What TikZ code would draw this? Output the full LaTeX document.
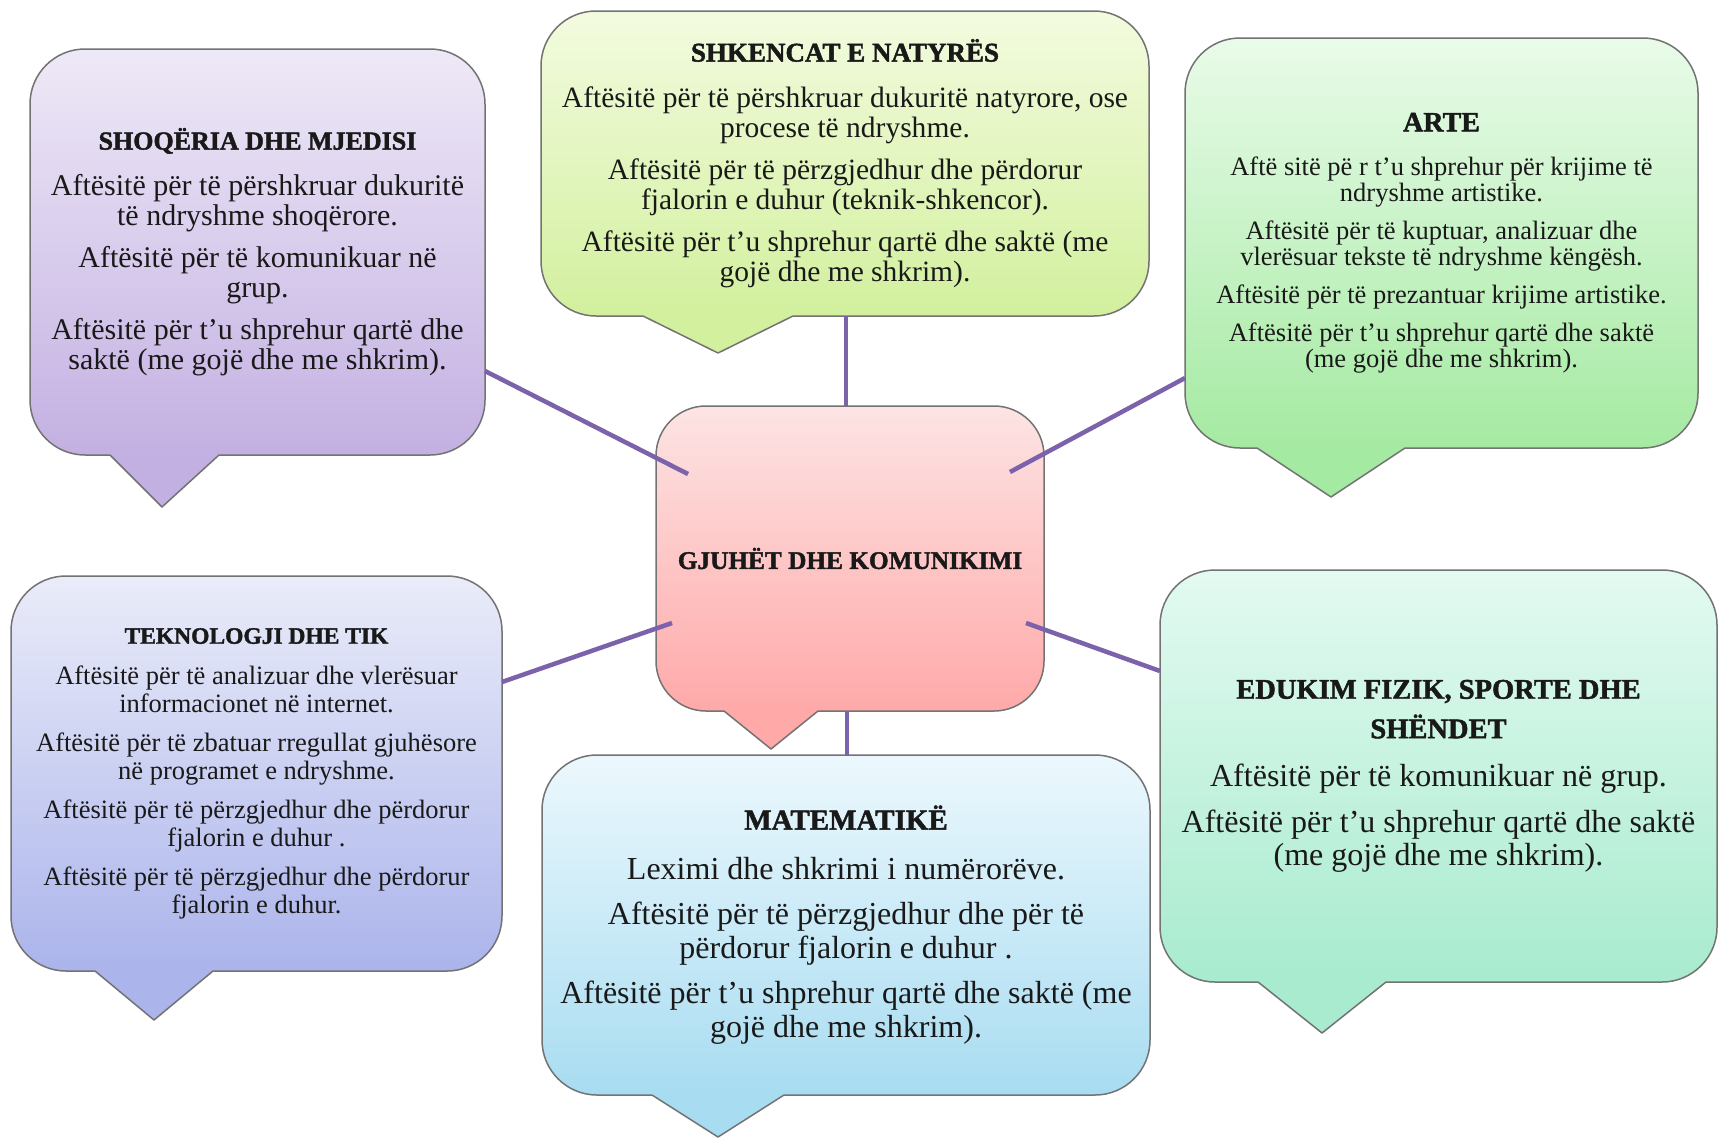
\documentclass[tikz,border=0pt]{standalone}
\usepackage{fontspec}
\setmainfont{Liberation Serif}
\newfontfamily\titlefont{Liberation Serif}[BoldFeatures={FakeBold=1.6}]
\usetikzlibrary{positioning, calc}

\definecolor{edgegray}{HTML}{737373}
\definecolor{linkpurple}{HTML}{7B62AB}
\definecolor{shoqtop}{HTML}{EEE9F7}
\definecolor{shoqbot}{HTML}{C3B0E2}
\definecolor{shktop}{HTML}{F3FBDF}
\definecolor{shkbot}{HTML}{D2F09E}
\definecolor{artetop}{HTML}{E9FBE9}
\definecolor{artebot}{HTML}{A5EAA2}
\definecolor{tektop}{HTML}{EAECF9}
\definecolor{tekbot}{HTML}{ABB4EB}
\definecolor{gjutop}{HTML}{FDE4E4}
\definecolor{gjubot}{HTML}{FFA9A9}
\definecolor{mattop}{HTML}{ECF8FD}
\definecolor{matbot}{HTML}{A8DCF1}
\definecolor{edutop}{HTML}{E3FAF1}
\definecolor{edubot}{HTML}{A8EBCE}

\lineskiplimit=-100pt
\newcommand{\boxtitle}[2]{{\fontsize{#1}{#1}\titlefont\bfseries #2}}
% tail under a box: node, base left x, base right x, tip x, tip y, colour
\newcommand{\calltail}[6]{%
  \fill[#6] (#2,0 |- #1.south) -- (#4,#5) -- (#3,0 |- #1.south) -- ++(0,-6) -| (#2,0 |- #1.south) -- cycle;
  \draw[edge] (#2,0 |- #1.south) -- (#4,#5) -- (#3,0 |- #1.south);
}

\begin{document}
\begin{tikzpicture}[x=1pt, y=-1pt, text=black!90,
  edge/.style={draw=edgegray, line width=1.5pt, line join=round},
  bubble/.style={rectangle, rounded corners=55pt, edge, anchor=north west, align=center, inner sep=0pt, outer sep=0pt},
  link/.style={draw=linkpurple, line width=4.5pt}]

\useasboundingbox (0,0) rectangle (1720,1138);
\fill[white] (0,0) rectangle (1720,1138);

% Boxes
\node[bubble, top color=shoqtop, bottom color=shoqbot, minimum width=455pt, minimum height=406pt,
  font=\fontsize{30}{30}\selectfont] (shoq) at (30,49) {%
  \boxtitle{26}{SHOQËRIA DHE MJEDISI}\\[16pt]
  Aftësitë për të përshkruar dukuritë\\ të ndryshme shoqërore.\\[12pt]
  Aftësitë për të komunikuar në\\ grup.\\[12pt]
  Aftësitë për t'u shprehur qartë dhe\\ saktë (me gojë dhe me shkrim).};

\node[bubble, top color=shktop, bottom color=shkbot, minimum width=608pt, minimum height=305pt,
  font=\fontsize{29.5}{30}\selectfont] (shken) at (541,11) {%
  \boxtitle{27}{SHKENCAT E NATYRËS}\\[16pt]
  Aftësitë për të përshkruar dukuritë natyrore, ose\\ procese të ndryshme.\\[12pt]
  Aftësitë për të përzgjedhur  dhe përdorur\\ fjalorin e duhur (teknik-shkencor).\\[12pt]
  Aftësitë për t'u shprehur qartë dhe saktë (me\\ gojë dhe me shkrim).};

\node[bubble, top color=artetop, bottom color=artebot, minimum width=513pt, minimum height=410pt,
  font=\fontsize{26.5}{26}\selectfont] (arte) at (1185,38) {%
  \boxtitle{28}{ARTE}\\[18pt]
  Aftë sitë  pë r t'u shprehur për krijime të\\ ndryshme  artistike.\\[12pt]
  Aftësitë për të kuptuar, analizuar dhe\\ vlerësuar tekste të ndryshme  këngësh.\\[12pt]
  Aftësitë për të prezantuar krijime artistike.\\[12pt]
  Aftësitë për t'u shprehur qartë dhe  saktë\\ (me gojë dhe me shkrim).};

\node[bubble, top color=tektop, bottom color=tekbot, minimum width=491pt, minimum height=395pt,
  font=\fontsize{26.5}{27.5}\selectfont] (tekn) at (11,576) {%
  \boxtitle{23.5}{TEKNOLOGJI DHE TIK}\\[13.5pt]
  Aftësitë për të analizuar dhe vlerësuar\\ informacionet në internet.\\[12pt]
  Aftësitë për të zbatuar rregullat gjuhësore\\ në programet e ndryshme.\\[12pt]
  Aftësitë për të përzgjedhur  dhe përdorur\\ fjalorin e duhur .\\[12pt]
  Aftësitë për të përzgjedhur  dhe përdorur\\ fjalorin e duhur.};

\node[bubble, rounded corners=50pt, top color=gjutop, bottom color=gjubot, minimum width=388pt, minimum height=305pt]
  (gjuhe) at (656,406) {\boxtitle{25.3}{GJUHËT DHE KOMUNIKIMI}};

\node[bubble, top color=mattop, bottom color=matbot, minimum width=608pt, minimum height=340pt,
  font=\fontsize{32}{34}\selectfont] (mat) at (542,755) {%
  \boxtitle{29}{MATEMATIKË}\\[16pt]
  Leximi dhe shkrimi i numërorëve.\\[11pt]
  Aftësitë për të përzgjedhur dhe për të\\ përdorur fjalorin e duhur .\\[11pt]
  Aftësitë për t'u shprehur qartë dhe saktë (me\\ gojë dhe me shkrim).};

\node[bubble, top color=edutop, bottom color=edubot, minimum width=557pt, minimum height=412pt,
  font=\fontsize{32}{33}\selectfont] (eduk) at (1160,570) {%
  \boxtitle{28.5}{EDUKIM FIZIK, SPORTE DHE}\\[6.5pt]
  \boxtitle{28.5}{SHËNDET}\\[15pt]
  Aftësitë për të komunikuar në grup.\\[13pt]
  Aftësitë për t'u shprehur qartë dhe saktë\\ (me gojë dhe me shkrim).};

% Tails
\calltail{shoq}{110}{219}{162}{507}{shoqbot}
\calltail{shken}{643}{793}{718}{353}{shkbot}
\calltail{arte}{1257}{1405}{1331}{497}{artebot}
\calltail{tekn}{95}{213}{154}{1020}{tekbot}
\calltail{gjuhe}{724}{818}{771}{749}{gjubot}
\calltail{mat}{652}{784}{718}{1137}{matbot}
\calltail{eduk}{1258}{1386}{1322}{1033}{edubot}

% Edges
\coordinate (gA) at (688,474);
\coordinate (gB) at (1010,472);
\coordinate (gC) at (672,623);
\coordinate (gD) at (1026,623);
\draw[link] (shoq.east |- 0,371) -- (gA);
\draw[link] (arte.west |- 0,378) -- (gB);
\draw[link] (tekn.east |- 0,682) -- (gC);
\draw[link] (eduk.west |- 0,671) -- (gD);
\draw[link] (shken.south -| 846,0) -- (gjuhe.north -| 846,0);
\draw[link] (gjuhe.south -| 847,0) -- (mat.north -| 847,0);

\end{tikzpicture}
\end{document}
